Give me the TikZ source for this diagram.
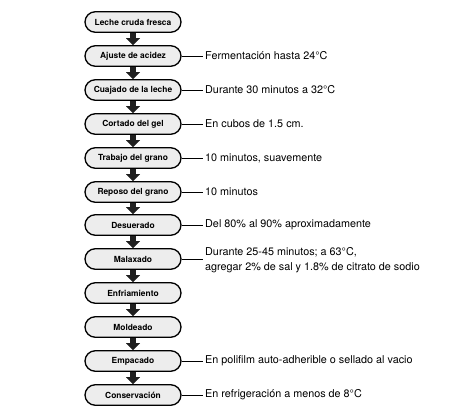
\documentclass[tikz,border=0pt]{standalone}
\usepackage{fontspec}
\setmainfont{TeX Gyre Heros}
\usetikzlibrary{arrows.meta,shapes.misc}
\begin{document}
\begin{tikzpicture}[x=1pt,y=-1pt,
  stepbox/.style={draw=black, line width=1.3pt, fill=black!7, rounded rectangle,
    minimum width=96pt, minimum height=20.5pt, inner sep=0pt,
    font=\bfseries\fontsize{8.4}{9}\selectfont},
  flow/.style={draw=black!88, line width=6pt,
    -{Triangle[width=14pt,length=7pt,line width=0.01pt]}},
  note/.style={anchor=west, font=\fontsize{10.8}{14.5}\selectfont, align=left,
    inner ysep=0pt, inner xsep=2pt},
  link/.style={draw=black, line width=0.8pt}]
\useasboundingbox (0,0) rectangle (474,420);

\node[stepbox] (b1)  at (133,22)  {Leche cruda fresca};
\node[stepbox] (b2)  at (133,56)  {Ajuste de acidez};
\node[stepbox] (b3)  at (133,90)  {Cuajado de la leche};
\node[stepbox] (b4)  at (133,124) {Cortado del gel};
\node[stepbox] (b5)  at (133,158) {Trabajo del grano};
\node[stepbox] (b6)  at (133,192) {Reposo del grano};
\node[stepbox] (b7)  at (133,225) {Desuerado};
\node[stepbox] (b8)  at (133,259) {Malaxado};
\node[stepbox] (b9)  at (133,293) {Enfriamiento};
\node[stepbox] (b10) at (133,327) {Moldeado};
\node[stepbox] (b11) at (133,361) {Empacado};
\node[stepbox] (b12) at (133,395) {Conservación};

\foreach \a/\b in {b1/b2,b2/b3,b3/b4,b4/b5,b5/b6,b6/b7,b7/b8,b8/b9,b9/b10,b10/b11,b11/b12}
  \draw[flow] (\a.south) -- (\b.north);

\node[note] (n2)  at (203,56)  {Fermentación hasta 24°C};
\node[note] (n3)  at (203,90)  {Durante 30 minutos a 32°C};
\node[note] (n4)  at (203,124) {En cubos de 1.5 cm.};
\node[note] (n5)  at (203,158) {10 minutos, suavemente};
\node[note] (n6)  at (203,192) {10 minutos};
\node[note] (n7)  at (203,225) {Del 80\% al 90\% aproximadamente};
\node[note] (n8)  at (203,260) {Durante 25-45 minutos; a 63°C,\\agregar 2\% de sal y 1.8\% de citrato de sodio};
\node[note] (n11) at (203,361) {En polifilm auto-adherible o sellado al vacio};
\node[note] (n12) at (203,395) {En refrigeración a menos de 8°C};

\foreach \a/\b in {b2/n2,b3/n3,b4/n4,b5/n5,b6/n6,b7/n7,b11/n11,b12/n12}
  \draw[link] (\a.east) -- (\b.west);
\draw[link] (b8.east) -- (b8.east -| n8.west);
\end{tikzpicture}
\end{document}
